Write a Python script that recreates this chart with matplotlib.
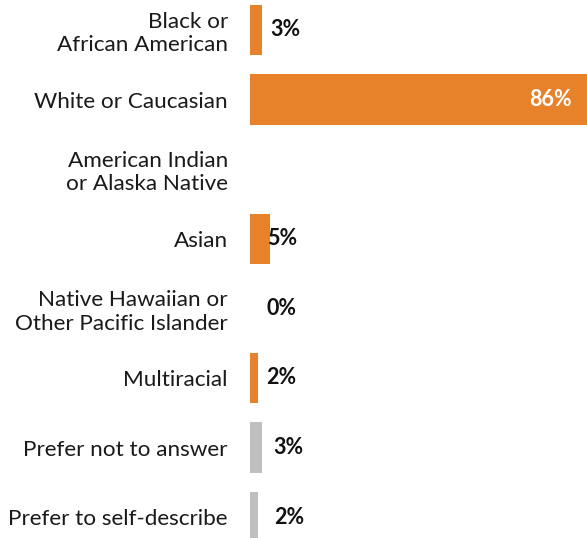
import matplotlib.pyplot as plt

categories = ["Black or\nAfrican American", "White or Caucasian", "American Indian\nor Alaska Native",
              "Asian", "Native Hawaiian or\nOther Pacific Islander", "Multiracial",
              "Prefer not to answer", "Prefer to self-describe"]
values = [3, 86, None, 5, 0, 2, 3, 2]
colors = ["#E8822A"] * 6 + ["#BFBFBF"] * 2

# where the small value labels start (data units)
label_x = [5.1, None, None, 4.3, 4.1, 4.1, 5.9, 6.1]

plt.rcParams['font.family'] = ['Lato', 'DejaVu Sans']

fig = plt.figure(figsize=(5.87, 5.38), dpi=100)
ax = fig.add_axes([250 / 587, 0, 337 / 587, 1])

for i, (v, c) in enumerate(zip(values, colors)):
    if v is None:
        continue
    ax.barh(i, v, height=0.72, color=c)
    if v > 50:
        ax.text(v - 3.8, i, f"{v}%", ha='right', va='center', color='white',
                fontsize=15.5, fontweight='bold')
    else:
        ax.text(label_x[i], i, f"{v}%", ha='left', va='center', color='#111111',
                fontsize=15.5, fontweight='bold')

ax.set_xlim(0, 86)
ax.set_ylim(7.30, -0.43)
ax.set_yticks(range(len(categories)))
ax.set_yticklabels(categories, fontsize=16.2, color='#1a1a1a')
ax.tick_params(axis='y', length=0, pad=16)
ax.set_xticks([])
for s in ax.spines.values():
    s.set_visible(False)

fig.savefig("out.png", dpi=100)
